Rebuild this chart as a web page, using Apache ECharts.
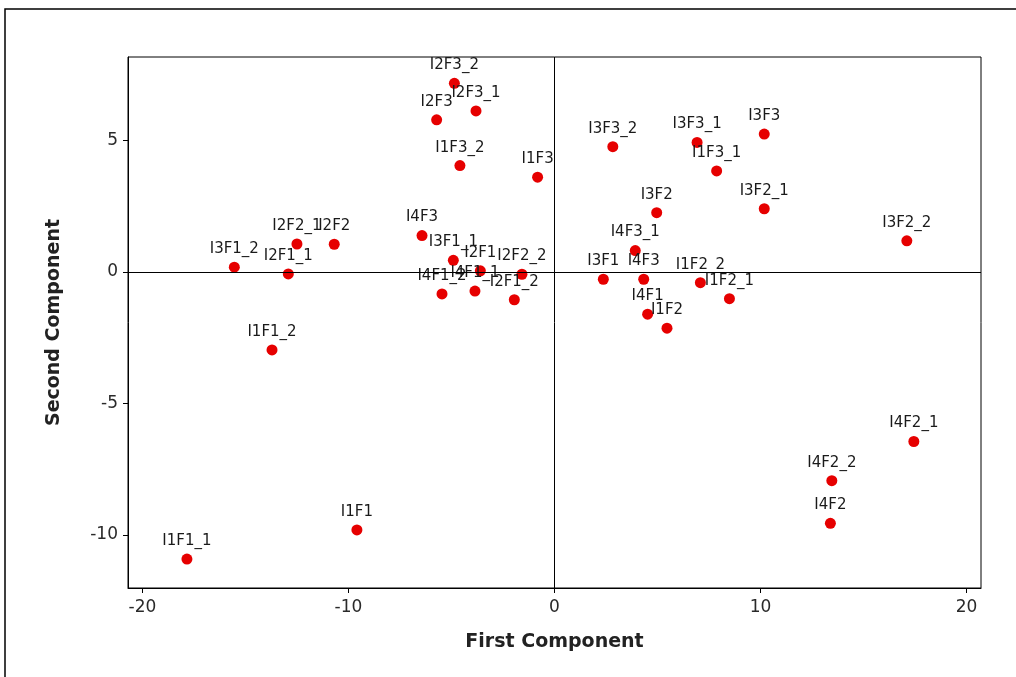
<!DOCTYPE html>
<html>
<head>
<meta charset="utf-8">
<script src="https://cdn.jsdelivr.net/npm/echarts@6/dist/echarts.min.js"></script>
<style>html,body{margin:0;padding:0;background:#fff}#c{width:1016px;height:677px}</style>
</head>
<body>
<div id="c"></div>
<script>
var names = ['I1F1_1','I1F1','I1F1_2','I3F1_2','I2F1_1','I2F2_1','I2F2','I4F3','I3F1_1','I2F1','I2F2_2','I4F1_2','I4F1_1','I2F1_2','I2F3_2','I2F3_1','I2F3','I1F3_2','I1F3','I3F3_2','I3F3_1','I3F3','I1F3_1','I3F2','I3F2_1','I3F2_2','I4F3_1','I3F1','I4F3','I1F2_2','I1F2_1','I4F1','I1F2','I4F2_1','I4F2_2','I4F2'];
var firstComp = [-17.84,-9.59,-13.71,-15.54,-12.92,-12.50,-10.69,-6.43,-4.91,-3.60,-1.58,-5.46,-3.86,-1.95,-4.86,-3.81,-5.72,-4.59,-0.82,2.83,6.92,10.18,7.87,4.96,10.18,17.10,3.92,2.37,4.33,7.08,8.49,4.52,5.46,17.44,13.46,13.39];
var secondComp = [-10.92,-9.81,-2.97,0.18,-0.08,1.06,1.05,1.38,0.44,0.04,-0.09,-0.84,-0.73,-1.06,7.17,6.12,5.78,4.04,3.60,4.76,4.92,5.24,3.84,2.25,2.40,1.18,0.81,-0.28,-0.28,-0.41,-1.02,-1.61,-2.14,-6.45,-7.94,-9.56];
var xTicks = [-20,-10,0,10,20];
var yTicks = [-10,-5,0,5];

var pts = names.map(function(n,i){ return {name:n, value:[firstComp[i], secondComp[i]]}; });

var chart = echarts.init(document.getElementById('c'), null, {renderer:'canvas'});
var axisLabelStyle = {color:'#2a2a2a', fontSize:17, fontFamily:'DejaVu Sans'};
chart.setOption({
  animation:false,
  backgroundColor:'#fff',
  graphic:[{type:'rect', shape:{x:5,y:9,width:1030,height:700}, style:{fill:'none', stroke:'#000', lineWidth:1.5}, silent:true, z:-1}],
  grid:{left:128, top:57, right:35, bottom:89, show:true, borderColor:'#000', borderWidth:1, backgroundColor:'transparent'},
  xAxis:{
    type:'value', min:-20.7, max:20.7,
    name:'First Component', nameLocation:'middle', nameGap:45,
    nameTextStyle:{color:'#222', fontSize:19, fontWeight:'bold', fontFamily:'DejaVu Sans'},
    axisLine:{show:true, onZero:false, lineStyle:{color:'#000', width:1}},
    axisTick:{show:true, inside:false, length:5, customValues:xTicks, lineStyle:{color:'#000'}},
    axisLabel:Object.assign({margin:11, customValues:xTicks}, axisLabelStyle),
    splitLine:{show:false}
  },
  yAxis:{
    type:'value', min:-12.02, max:8.17,
    name:'Second Component', nameLocation:'middle', nameGap:64, nameRotate:90,
    nameTextStyle:{color:'#222', fontSize:19, fontWeight:'bold', fontFamily:'DejaVu Sans'},
    axisLine:{show:true, onZero:false, lineStyle:{color:'#000', width:1}},
    axisTick:{show:true, inside:false, length:5, customValues:yTicks, lineStyle:{color:'#000'}},
    axisLabel:Object.assign({margin:10, customValues:yTicks}, axisLabelStyle),
    splitLine:{show:false}
  },
  series:[{
    type:'scatter',
    data:pts,
    symbol:'circle',
    symbolSize:11,
    itemStyle:{color:'#e60000', opacity:1},
    label:{show:true, position:'top', distance:5, formatter:'{b}', color:'#1a1a1a', fontSize:15, fontFamily:'DejaVu Sans'},
    markLine:{
      silent:true, symbol:['none','none'], label:{show:false},
      lineStyle:{color:'#000', width:1, type:'solid'},
      emphasis:{disabled:true},
      data:[{xAxis:0},{yAxis:0}]
    },
    z:3
  }]
});
</script>
</body>
</html>
